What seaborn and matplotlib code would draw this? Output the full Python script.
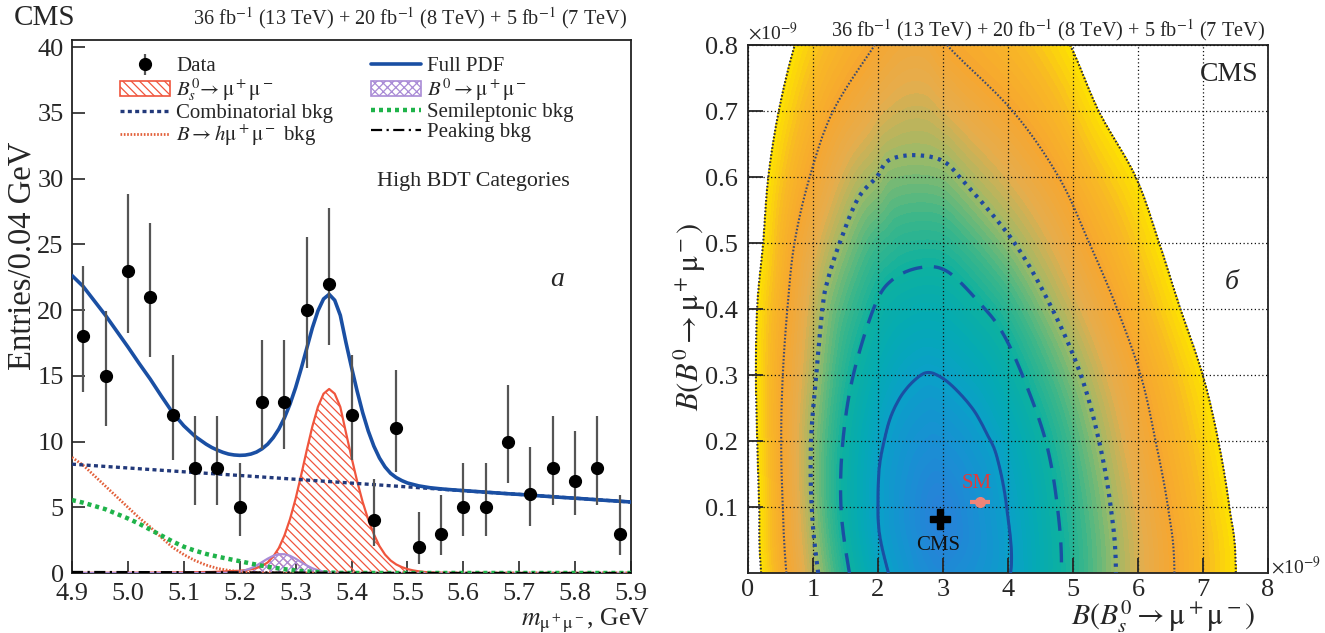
import numpy as np
import matplotlib
matplotlib.use("Agg")
import matplotlib.pyplot as plt
import seaborn as sns
from matplotlib.colors import LinearSegmentedColormap
from matplotlib.patches import Patch
from matplotlib.lines import Line2D

# ------------------------------------------------------------------ data (a)
mass_bins = [4.92, 4.96, 5.00, 5.04, 5.08, 5.12, 5.16, 5.20, 5.24, 5.28, 5.32, 5.36, 5.40,
             5.44, 5.48, 5.52, 5.56, 5.60, 5.64, 5.68, 5.72, 5.76, 5.80, 5.84, 5.88]
entries = [18, 15, 23, 21, 12, 8, 8, 5, 13, 13, 20, 22, 12, 4, 11, 2, 3, 5, 5, 10, 6, 8, 7, 8, 3]
err_lo = [4.21, 3.84, 4.77, 4.55, 3.43, 2.79, 2.79, 2.18, 3.57, 3.57, 4.44, 4.66, 3.43,
          1.94, 3.28, 1.32, 1.66, 2.18, 2.18, 3.12, 2.40, 2.79, 2.60, 2.79, 1.66]
err_hi = [5.33, 4.97, 5.87, 5.66, 4.57, 3.96, 3.96, 3.40, 4.71, 4.71, 5.56, 5.77, 4.57,
          3.18, 4.43, 2.66, 2.94, 3.40, 3.40, 4.28, 3.60, 3.96, 3.78, 3.96, 2.94]

full_m = [4.90, 4.92, 4.94, 4.96, 4.98, 5.00, 5.02, 5.04, 5.06, 5.08, 5.10, 5.12, 5.14,
          5.15, 5.16, 5.17, 5.18, 5.19, 5.20, 5.21, 5.22, 5.23, 5.24, 5.25, 5.26, 5.27,
          5.28, 5.29, 5.30, 5.31, 5.32, 5.33, 5.34, 5.35, 5.36, 5.37, 5.38, 5.39, 5.40,
          5.41, 5.42, 5.43, 5.44, 5.45, 5.46, 5.47, 5.48, 5.49, 5.50, 5.52, 5.54, 5.56,
          5.58, 5.60, 5.62, 5.64, 5.66, 5.68, 5.70, 5.72, 5.74, 5.76, 5.78, 5.80, 5.82,
          5.84, 5.86, 5.88, 5.90]
full_pdf = [22.63, 21.8, 20.7, 19.6, 18.4, 17.2, 15.95, 14.75, 13.45, 12.2, 11.2, 10.4, 9.8,
            9.55, 9.35, 9.18, 9.05, 8.98, 8.95, 8.97, 9.05, 9.2, 9.45, 9.8, 10.3, 10.95,
            11.8, 12.85, 14.1, 15.55, 17.1, 18.65, 19.95, 20.85, 21.2, 20.75, 19.6, 17.55, 15.65,
            13.85, 12.2, 10.8, 9.65, 8.75, 8.07, 7.58, 7.26, 7.03, 6.85, 6.63, 6.49, 6.40,
            6.33, 6.27, 6.21, 6.15, 6.09, 6.03, 5.98, 5.92, 5.86, 5.80, 5.74, 5.69, 5.63,
            5.57, 5.51, 5.46, 5.40]

bs_m = [4.90, 5.00, 5.10, 5.15, 5.20, 5.21, 5.22, 5.23, 5.24, 5.25, 5.26, 5.27, 5.28, 5.29,
        5.30, 5.31, 5.32, 5.33, 5.34, 5.35, 5.36, 5.37, 5.38, 5.39, 5.40, 5.41, 5.42, 5.43,
        5.44, 5.45, 5.46, 5.47, 5.48, 5.49, 5.50, 5.51, 5.52, 5.53, 5.54, 5.55, 5.56, 5.60, 5.90]
bs_pdf = [0.01, 0.02, 0.05, 0.08, 0.17, 0.22, 0.28, 0.38, 0.54, 0.8, 1.25, 1.9, 2.85, 4.1,
          5.65, 7.45, 9.35, 11.15, 12.65, 13.64, 14.0, 13.64, 12.63, 10.7, 8.8, 7.0, 5.4, 4.05,
          2.95, 2.05, 1.4, 0.95, 0.65, 0.45, 0.3, 0.2, 0.13, 0.08, 0.05, 0.03, 0.02, 0.0, 0.0]

b0_m = [4.90, 5.15, 5.17, 5.19, 5.20, 5.21, 5.22, 5.23, 5.24, 5.25, 5.26, 5.27, 5.28, 5.29,
        5.30, 5.31, 5.32, 5.33, 5.34, 5.35, 5.36, 5.38, 5.40, 5.90]
b0_pdf = [0.0, 0.0, 0.01, 0.05, 0.11, 0.21, 0.36, 0.57, 0.83, 1.09, 1.31, 1.43, 1.43, 1.31,
          1.09, 0.83, 0.57, 0.36, 0.21, 0.11, 0.05, 0.01, 0.0, 0.0]

comb_m = [4.9, 5.0, 5.1, 5.2, 5.3, 5.4, 5.5, 5.6, 5.7, 5.8, 5.9]
comb_bkg = [8.28, 7.99, 7.70, 7.42, 7.13, 6.84, 6.55, 6.26, 5.98, 5.69, 5.40]

semi_m = [4.90, 4.92, 4.94, 4.96, 4.98, 5.00, 5.02, 5.04, 5.06, 5.08, 5.10, 5.12, 5.14,
          5.16, 5.18, 5.20, 5.22, 5.24, 5.26, 5.28, 5.30, 5.32, 5.34, 5.36, 5.38, 5.40, 5.90]
semi_bkg = [5.55, 5.35, 5.1, 4.85, 4.5, 4.15, 3.75, 3.3, 2.85, 2.4, 2.0, 1.7, 1.45,
            1.25, 1.07, 0.9, 0.72, 0.55, 0.41, 0.29, 0.19, 0.12, 0.07, 0.03, 0.01, 0.0, 0.0]

hmm_m = [4.90, 4.92, 4.94, 4.96, 4.98, 5.00, 5.02, 5.04, 5.06, 5.08, 5.10, 5.12, 5.14,
         5.16, 5.18, 5.20, 5.22, 5.24, 5.26, 5.28, 5.30, 5.90]
hmm_bkg = [8.8, 8.2, 7.4, 6.6, 5.8, 5.0, 4.2, 3.5, 2.7, 1.95, 1.4, 0.95, 0.6,
           0.35, 0.2, 0.1, 0.05, 0.02, 0.01, 0.0, 0.0, 0.0]

peak_m = [4.9, 5.0, 5.1, 5.2, 5.3, 5.4, 5.5, 5.9]
peak_bkg = [0.08, 0.07, 0.06, 0.05, 0.03, 0.01, 0.0, 0.0]

# ------------------------------------------------------------------ data (b)
# contour lines (x: B(Bs->mumu), y: B(B0->mumu), units 1e-9)
c1_x = [4.04, 3.98, 3.83, 3.67, 3.47, 3.21, 2.98, 2.76, 2.56, 2.36, 2.20, 2.10, 2.02, 2.00, 2.02,
        2.16, 2.40, 2.95, 3.70]
c1_y = [0.00, 0.10, 0.176, 0.212, 0.247, 0.277, 0.296, 0.304, 0.292, 0.269, 0.238, 0.203, 0.161,
        0.112, 0.06, 0.00, -0.08, -0.15, -0.08]
c2_x = [4.82, 4.76, 4.58, 4.22, 3.91, 3.60, 3.08, 2.67, 2.23, 1.95, 1.62, 1.46, 1.43, 1.56, 1.80, 3.10, 4.70]
c2_y = [0.00, 0.10, 0.20, 0.30, 0.365, 0.405, 0.456, 0.463, 0.445, 0.405, 0.30, 0.20, 0.10, 0.00, -0.12, -0.30, -0.12]
c3_x = [5.66, 5.58, 5.40, 5.12, 4.68, 4.10, 3.30, 2.98, 2.54, 2.16, 1.98, 1.69, 1.41, 1.23, 1.15,
        1.05, 0.97, 0.98, 1.08, 1.35, 3.30, 5.60]
c3_y = [0.00, 0.10, 0.20, 0.30, 0.40, 0.50, 0.595, 0.625, 0.633, 0.625, 0.60, 0.567, 0.50, 0.445, 0.405,
        0.30, 0.20, 0.10, 0.00, -0.18, -0.47, -0.18]
c4_x = [6.56, 6.46, 6.27, 6.04, 5.66, 5.25, 4.78, 4.07, 3.06, 2.75, 2.50, 2.25, 1.95, 1.31, 0.95,
        0.715, 0.61, 0.535, 0.51, 0.535, 0.59, 0.80, 3.40, 6.50]
c4_y = [0.00, 0.10, 0.20, 0.30, 0.405, 0.50, 0.60, 0.70, 0.80, 0.85, 0.86, 0.845, 0.80, 0.70, 0.60,
        0.50, 0.405, 0.30, 0.20, 0.10, 0.00, -0.22, -0.65, -0.22]
c5_x = [7.51, 7.41, 7.24, 7.00, 6.64, 6.33, 5.97, 5.40, 4.96, 4.40, 3.70, 2.60, 1.50, 1.05, 0.715,
        0.47, 0.31, 0.23, 0.14, 0.12, 0.14, 0.17, 0.20, 0.45, 3.70, 7.45]
c5_y = [0.00, 0.10, 0.20, 0.30, 0.405, 0.50, 0.60, 0.70, 0.80, 0.90, 1.00, 1.10, 1.00, 0.90, 0.80,
        0.70, 0.60, 0.50, 0.405, 0.30, 0.20, 0.10, 0.00, -0.27, -0.85, -0.27]
best_fit = (2.95, 0.082)
sm_point = (3.57, 0.107)
sm_xerr = 0.15
sm_yerr = 0.006

# ------------------------------------------------------------------ style
sns.set_theme(style="white")
plt.rcParams["font.family"] = ["Liberation Serif", "DejaVu Serif"]
plt.rcParams["mathtext.fontset"] = "stix"
plt.rcParams["hatch.linewidth"] = 0.9
plt.rcParams["axes.linewidth"] = 1.3
plt.rcParams["axes.edgecolor"] = "#222222"

W, H = 1325, 633
fig = plt.figure(figsize=(W / 100, H / 100), dpi=100)

def fx(px):
    return px / W

def fy(py):
    return 1 - py / H

TICK = 19
TXT = 15

# ------------------------------------------------------------------ panel (a)
ax = fig.add_axes([fx(72), fy(573), fx(631) - fx(72), fy(40) - fy(573)])
ax.set_xlim(4.9, 5.9)
ax.set_ylim(0, 40.55)

C_RED = "#f0553d"
C_PUR = "#a98bd6"
C_BLUE = "#1a4fa3"
C_NAVY = "#22397a"
C_GREEN = "#1fb34a"
C_HRED = "#e2603a"

ax.fill_between(bs_m, 0, bs_pdf, facecolor="none", edgecolor=C_RED, hatch="\\\\\\\\", linewidth=0, zorder=2)
sns.lineplot(x=bs_m, y=bs_pdf, ax=ax, color=C_RED, linewidth=1.6, zorder=3, sort=False)
ax.fill_between(b0_m, 0, b0_pdf, facecolor="none", edgecolor=C_PUR, hatch="xxxx", linewidth=0, zorder=2)
sns.lineplot(x=b0_m, y=b0_pdf, ax=ax, color=C_PUR, linewidth=1.6, zorder=3, sort=False)
sns.lineplot(x=hmm_m, y=hmm_bkg, ax=ax, color=C_HRED, linewidth=2.0, linestyle=(0, (0.6, 0.6)), zorder=3, sort=False)
sns.lineplot(x=semi_m, y=semi_bkg, ax=ax, color=C_GREEN, linewidth=3.2, linestyle=(0, (0.9, 0.9)), zorder=3, sort=False)
sns.lineplot(x=peak_m, y=peak_bkg, ax=ax, color="black", linewidth=1.6, linestyle=(0, (5, 2, 1, 2)), zorder=3, sort=False)
sns.lineplot(x=comb_m, y=comb_bkg, ax=ax, color=C_NAVY, linewidth=2.4, linestyle=(0, (1.2, 1.0)), zorder=4, sort=False)
sns.lineplot(x=full_m, y=full_pdf, ax=ax, color=C_BLUE, linewidth=2.6, zorder=5, sort=False)
eb = ax.errorbar(mass_bins, entries, yerr=[err_lo, err_hi], fmt="o", color="black", ms=8.5,
                 ecolor="#555555", elinewidth=1.6, capsize=0, zorder=6)

ax.set_xticks([4.9, 5.0, 5.1, 5.2, 5.3, 5.4, 5.5, 5.6, 5.7, 5.8, 5.9])
ax.set_xticklabels(["4.9", "5.0", "5.1", "5.2", "5.3", "5.4", "5.5", "5.6", "5.7", "5.8", "5.9"])
ax.set_yticks([0, 5, 10, 15, 20, 25, 30, 35, 40])
ax.tick_params(direction="in", length=9, width=1.2, labelsize=TICK, top=False, right=False,
               bottom=True, left=True, pad=6)
ax.tick_params(axis="x", pad=7.5)
ax.set_xlabel("")
ax.set_ylabel("")

handles = [
    eb,
    Patch(facecolor="white", edgecolor=C_RED, hatch="\\\\\\\\", linewidth=1.2),
    Line2D([], [], color=C_NAVY, lw=2.4, ls=(0, (1.2, 1.0))),
    Line2D([], [], color=C_HRED, lw=2.0, ls=(0, (0.6, 0.6))),
    Line2D([], [], color=C_BLUE, lw=2.6),
    Patch(facecolor="white", edgecolor=C_PUR, hatch="xxxx", linewidth=1.2),
    Line2D([], [], color=C_GREEN, lw=3.2, ls=(0, (0.9, 0.9))),
    Line2D([], [], color="black", lw=1.6, ls=(0, (5, 2, 1, 2))),
]
labels = [
    "Data",
    r"$B^0_s\!\rightarrow \mathrm{\mu^+\mu^-}$",
    "Combinatorial bkg",
    r"$B \rightarrow h\mathrm{\mu^+\mu^-}$ bkg",
    "Full PDF",
    r"$B^0 \rightarrow \mathrm{\mu^+\mu^-}$",
    "Semileptonic bkg",
    "Peaking bkg",
]
leg = ax.legend(handles, labels, ncol=2, loc="upper left", bbox_to_anchor=(0.071, 0.984),
                frameon=False, fontsize=TXT, handlelength=2.4, handletextpad=0.3,
                columnspacing=1.8, labelspacing=0.0, borderaxespad=0.0)

ax.text(0.546, 0.735, "High BDT Categories", transform=ax.transAxes, fontsize=15.8, ha="left", va="center")
ax.text(0.867, 0.55, "a", transform=ax.transAxes, fontsize=20, style="italic", ha="center", va="center")

fig.text(fx(14), fy(18), "CMS", fontsize=21, ha="left", va="center")
fig.text(fx(627), fy(18),
         r"36 fb$^{-1}$ (13 TeV) + 20 fb$^{-1}$ (8 TeV) + 5 fb$^{-1}$ (7 TeV)",
         fontsize=14.6, ha="right", va="center")
fig.text(fx(22), fy(142), "Entries/0.04 GeV", fontsize=23.5, rotation=90, ha="center", va="top")
fig.text(fx(650), fy(621), r"$m_{\mathrm{\mu^+\mu^-}}$, GeV", fontsize=18.5, ha="right", va="center")

# ------------------------------------------------------------------ panel (b)
ax2 = fig.add_axes([fx(748), fy(573), fx(1268) - fx(748), fy(45) - fy(573)])
YS = 10.0
cx, cy = best_fit[0], best_fit[1] * YS
contours = [(c1_x, c1_y), (c2_x, c2_y), (c3_x, c3_y), (c4_x, c4_y), (c5_x, c5_y)]

def smooth_closed(x, y, n=24):
    P = np.column_stack([x, y])
    N = len(P)
    t = np.linspace(0, 1, n, endpoint=False)[:, None]
    out = []
    for i in range(N):
        p0, p1, p2, p3 = P[i - 1], P[i], P[(i + 1) % N], P[(i + 2) % N]
        out.append(0.5 * (2 * p1 + (-p0 + p2) * t + (2 * p0 - 5 * p1 + 4 * p2 - p3) * t ** 2
                          + (-p0 + 3 * p1 - 3 * p2 + p3) * t ** 3))
    out = np.vstack(out)
    return out[:, 0], out[:, 1]

def ray_radius(px, py, ang):
    px = np.append(px, px[0]); py = np.append(py, py[0])
    ax_, ay_ = px[:-1], py[:-1]
    ex, ey = px[1:] - ax_, py[1:] - ay_
    wx, wy = ax_ - cx, ay_ - cy
    ux, uy = np.cos(ang)[:, None], np.sin(ang)[:, None]
    den = -ux * ey[None, :] + ex[None, :] * uy
    den = np.where(np.abs(den) < 1e-12, 1e-12, den)
    t = (-wx[None, :] * ey[None, :] + ex[None, :] * wy[None, :]) / den
    s = (ux * wy[None, :] - uy * wx[None, :]) / den
    ok = (s >= -1e-9) & (s <= 1 + 1e-9) & (t > 0)
    t = np.where(ok, t, -np.inf)
    return t.max(axis=1)

angs = np.linspace(-np.pi, np.pi, 2881)
radii = []
for x, y in contours:
    sx, sy = smooth_closed(np.array(x, float), np.array(y, float) * YS)
    radii.append(ray_radius(sx, sy, angs))

gx = np.linspace(0, 8, 481)
gy = np.linspace(0, 0.8, 321)
GX, GY = np.meshgrid(gx, gy)
dx, dy = GX - cx, GY * YS - cy
dist = np.hypot(dx, dy)
th = np.arctan2(dy, dx)
Rk = [np.zeros_like(dist)] + [np.interp(th, angs, r) for r in radii]
field = np.full(dist.shape, np.nan)
for k in range(5):
    m = (dist >= Rk[k]) & (dist < Rk[k + 1])
    field[m] = k + (dist[m] - Rk[k][m]) / (Rk[k + 1][m] - Rk[k][m])
m = dist >= Rk[5]
field[m] = 5 + (dist[m] - Rk[5][m]) / (Rk[5][m] - Rk[4][m])

cmap = LinearSegmentedColormap.from_list("bird", [
    (0.00, "#2a7fd9"), (0.10, "#1a8ed4"), (0.20, "#0aa0c8"), (0.30, "#04aab4"),
    (0.40, "#0db0a0"), (0.50, "#42b787"), (0.60, "#9cba68"), (0.70, "#e6ad4c"),
    (0.80, "#f6a630"), (0.90, "#f8b825"), (1.00, "#fde200")])
ax2.contourf(GX, GY, field, levels=np.linspace(0, 5, 61), cmap=cmap, zorder=1)

line_specs = [
    (1.0, C_BLUE, 2.2, "solid"),
    (2.0, C_BLUE, 2.4, (0, (6, 3.5))),
    (3.0, "#2049a0", 3.0, (0, (0.8, 1.3))),
    (4.0, "#3c4a70", 1.5, (0, (0.8, 0.9))),
    (4.995, "#2a2a3a", 1.5, (0, (0.8, 0.9))),
]
for lev, col, lw, ls in line_specs:
    ax2.contour(GX, GY, field, levels=[lev], colors=[col], linewidths=lw, linestyles=[ls], zorder=4)

ax2.set_xlim(0, 8)
ax2.set_ylim(0, 0.8)
ax2.set_xticks([0, 1, 2, 3, 4, 5, 6, 7, 8])
ax2.set_xticklabels(["0", "1", "2", "3", "4", "5", "6", "7", "8"])
ax2.set_yticks([0.1, 0.2, 0.3, 0.4, 0.5, 0.6, 0.7, 0.8])
ax2.set_yticklabels(["0.1", "0.2", "0.3", "0.4", "0.5", "0.6", "0.7", "0.8"])
ax2.grid(True, color="#111111", linestyle=(0, (1, 2)), linewidth=0.9)
ax2.set_axisbelow(False)
ax2.tick_params(direction="in", length=11, width=1.3, labelsize=TICK, top=False, right=False,
                bottom=True, left=True, pad=7)
ax2.tick_params(axis="x", pad=4)

ax2.plot([best_fit[0]], [best_fit[1]], marker="P", ms=15, color="black", zorder=6, ls="none")
ax2.text(best_fit[0] - 0.02, 0.042, "CMS", fontsize=TXT, ha="center", va="center", color="#111111", zorder=6)
ax2.errorbar([sm_point[0]], [sm_point[1]], xerr=sm_xerr, yerr=sm_yerr, fmt="o", ms=7,
             color="#f08478", elinewidth=3.0, capsize=0, zorder=6)
ax2.text(sm_point[0] - 0.05, 0.136, "SM", fontsize=TXT, ha="center", va="center", color="#e33a3a", zorder=6)
ax2.text(7.85, 0.755, "CMS", fontsize=20, ha="right", va="center", zorder=6)
ax2.text(7.45, 0.44, "б", fontsize=20, style="italic", ha="center", va="center", zorder=6)

fig.text(fx(748), fy(33), r"$\times$10$^{-9}$", fontsize=14, ha="left", va="center")
fig.text(fx(1271), fy(567), r"$\times$10$^{-9}$", fontsize=14, ha="left", va="center")
fig.text(fx(1256), fy(617),
         r"$B(B^0_s \rightarrow \mathrm{\mu^+\mu^-})$", fontsize=21.5, ha="right", va="center")
fig.text(fx(690), fy(222), r"$B(B^0 \rightarrow \mathrm{\mu^+\mu^-})$", fontsize=22,
         rotation=90, ha="center", va="top")
fig.text(fx(1265), fy(30),
         r"36 fb$^{-1}$ (13 TeV) + 20 fb$^{-1}$ (8 TeV) + 5 fb$^{-1}$ (7 TeV)",
         fontsize=14.6, ha="right", va="center")

fig.savefig("out.png", dpi=100)
